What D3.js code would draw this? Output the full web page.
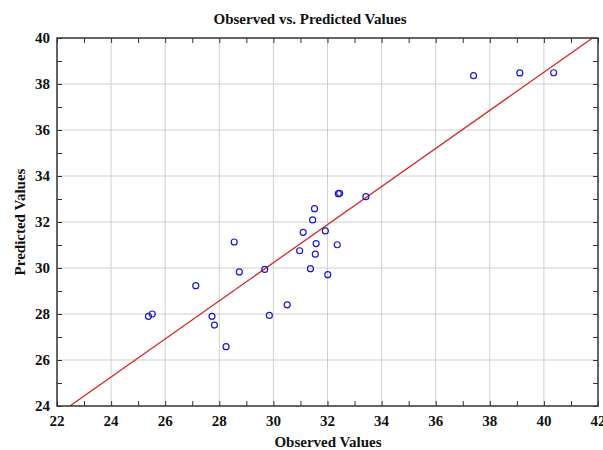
<!DOCTYPE html>
<html>
<head>
<meta charset="utf-8">
<script src="https://cdn.jsdelivr.net/npm/d3@7"></script>
<style>
  body { margin: 0; background: #fff; }
  svg text { font-family: "Liberation Serif", "Times New Roman", serif; font-weight: bold; fill: #111; }
</style>
</head>
<body>
<div id="chart"></div>
<script>
// observed vs predicted pairs
var observed = [37.40, 39.11, 40.36, 32.40, 32.45, 33.42, 31.52, 31.45, 31.10, 31.92,
                28.55, 31.58, 32.36, 30.97, 31.55, 29.68, 31.37, 28.74, 32.01, 27.13,
                30.51, 25.38, 25.52, 27.73, 29.85, 27.82, 28.25];
var predicted = [38.36, 38.48, 38.49, 33.23, 33.25, 33.10, 32.58, 32.09, 31.55, 31.61,
                 31.13, 31.06, 31.01, 30.75, 30.60, 29.94, 29.97, 29.83, 29.71, 29.23,
                 28.40, 27.90, 28.00, 27.90, 27.94, 27.52, 26.58];
// fitted line  y = intercept + slope * x
var fitIntercept = 5.39;
var fitSlope = 0.828;

var xTicks = [22, 24, 26, 28, 30, 32, 34, 36, 38, 40, 42];
var yTicks = [24, 26, 28, 30, 32, 34, 36, 38, 40];

var width = 603, height = 450;
var margin = {top: 38, right: 5, bottom: 44, left: 57};

var svg = d3.select("#chart").append("svg")
            .attr("width", width)
            .attr("height", height);

var x = d3.scaleLinear().domain([22, 42]).range([margin.left, width - margin.right]);
var y = d3.scaleLinear().domain([24, 40]).range([height - margin.bottom, margin.top]);

var x0 = x.range()[0], x1 = x.range()[1];
var y0 = y.range()[0], y1 = y.range()[1];

// grid
svg.append("g").selectAll("line")
   .data(xTicks.slice(1, -1))
   .enter().append("line")
   .attr("x1", function(d) { return x(d); })
   .attr("x2", function(d) { return x(d); })
   .attr("y1", y1).attr("y2", y0)
   .attr("stroke", "#d0d0d0").attr("stroke-width", 1);

svg.append("g").selectAll("line")
   .data(yTicks.slice(1, -1))
   .enter().append("line")
   .attr("y1", function(d) { return y(d); })
   .attr("y2", function(d) { return y(d); })
   .attr("x1", x0).attr("x2", x1)
   .attr("stroke", "#d0d0d0").attr("stroke-width", 1);

// inward ticks on all four sides (every unit)
var tickLen = 5;
var xAll = d3.range(22, 43, 1), yAll = d3.range(24, 41, 1);
var axisColor = "#333";

svg.append("g").call(d3.axisBottom(x).tickValues(xAll).tickSize(-tickLen).tickFormat(""))
   .attr("transform", "translate(0," + y0 + ")");
svg.append("g").call(d3.axisTop(x).tickValues(xAll).tickSize(-tickLen).tickFormat(""))
   .attr("transform", "translate(0," + y1 + ")");
svg.append("g").call(d3.axisLeft(y).tickValues(yAll).tickSize(-tickLen).tickFormat(""))
   .attr("transform", "translate(" + x0 + ",0)");
svg.append("g").call(d3.axisRight(y).tickValues(yAll).tickSize(-tickLen).tickFormat(""))
   .attr("transform", "translate(" + x1 + ",0)");
svg.selectAll(".domain").remove();
svg.selectAll(".tick line").attr("stroke", axisColor);

// tick labels
svg.append("g").selectAll("text")
   .data(xTicks)
   .enter().append("text")
   .attr("x", function(d) { return x(d); })
   .attr("y", y0 + 20)
   .attr("text-anchor", "middle")
   .style("font-size", "15px")
   .text(function(d) { return d; });

svg.append("g").selectAll("text")
   .data(yTicks)
   .enter().append("text")
   .attr("x", x0 - 7)
   .attr("y", function(d) { return y(d) + 5; })
   .attr("text-anchor", "end")
   .style("font-size", "15px")
   .text(function(d) { return d; });

// fitted line, clipped to plot box
svg.append("clipPath").attr("id", "plotclip")
   .append("rect").attr("x", x0).attr("y", y1).attr("width", x1 - x0).attr("height", y0 - y1);

svg.append("line")
   .attr("clip-path", "url(#plotclip)")
   .attr("x1", x(22)).attr("y1", y(fitIntercept + fitSlope * 22))
   .attr("x2", x(42)).attr("y2", y(fitIntercept + fitSlope * 42))
   .attr("stroke", "#d42a2a").attr("stroke-width", 1.3);

// points
svg.append("g").selectAll("circle")
   .data(observed)
   .enter().append("circle")
   .attr("cx", function(d) { return x(d); })
   .attr("cy", function(d, i) { return y(predicted[i]); })
   .attr("r", 3)
   .attr("fill", "none")
   .attr("stroke", "#1a1ad0")
   .attr("stroke-width", 1.2);

// frame
svg.append("rect")
   .attr("x", x0).attr("y", y1)
   .attr("width", x1 - x0).attr("height", y0 - y1)
   .attr("fill", "none").attr("stroke", axisColor).attr("stroke-width", 1.5);

// titles
svg.append("text")
   .attr("x", 310).attr("y", 24)
   .attr("text-anchor", "middle")
   .style("font-size", "15px")
   .text("Observed vs. Predicted Values");

svg.append("text")
   .attr("x", 328).attr("y", 447)
   .attr("text-anchor", "middle")
   .style("font-size", "15px")
   .text("Observed Values");

svg.append("text")
   .attr("transform", "translate(25," + ((y0 + y1) / 2) + ") rotate(-90)")
   .attr("text-anchor", "middle")
   .style("font-size", "15px")
   .text("Predicted Values");
</script>
</body>
</html>
